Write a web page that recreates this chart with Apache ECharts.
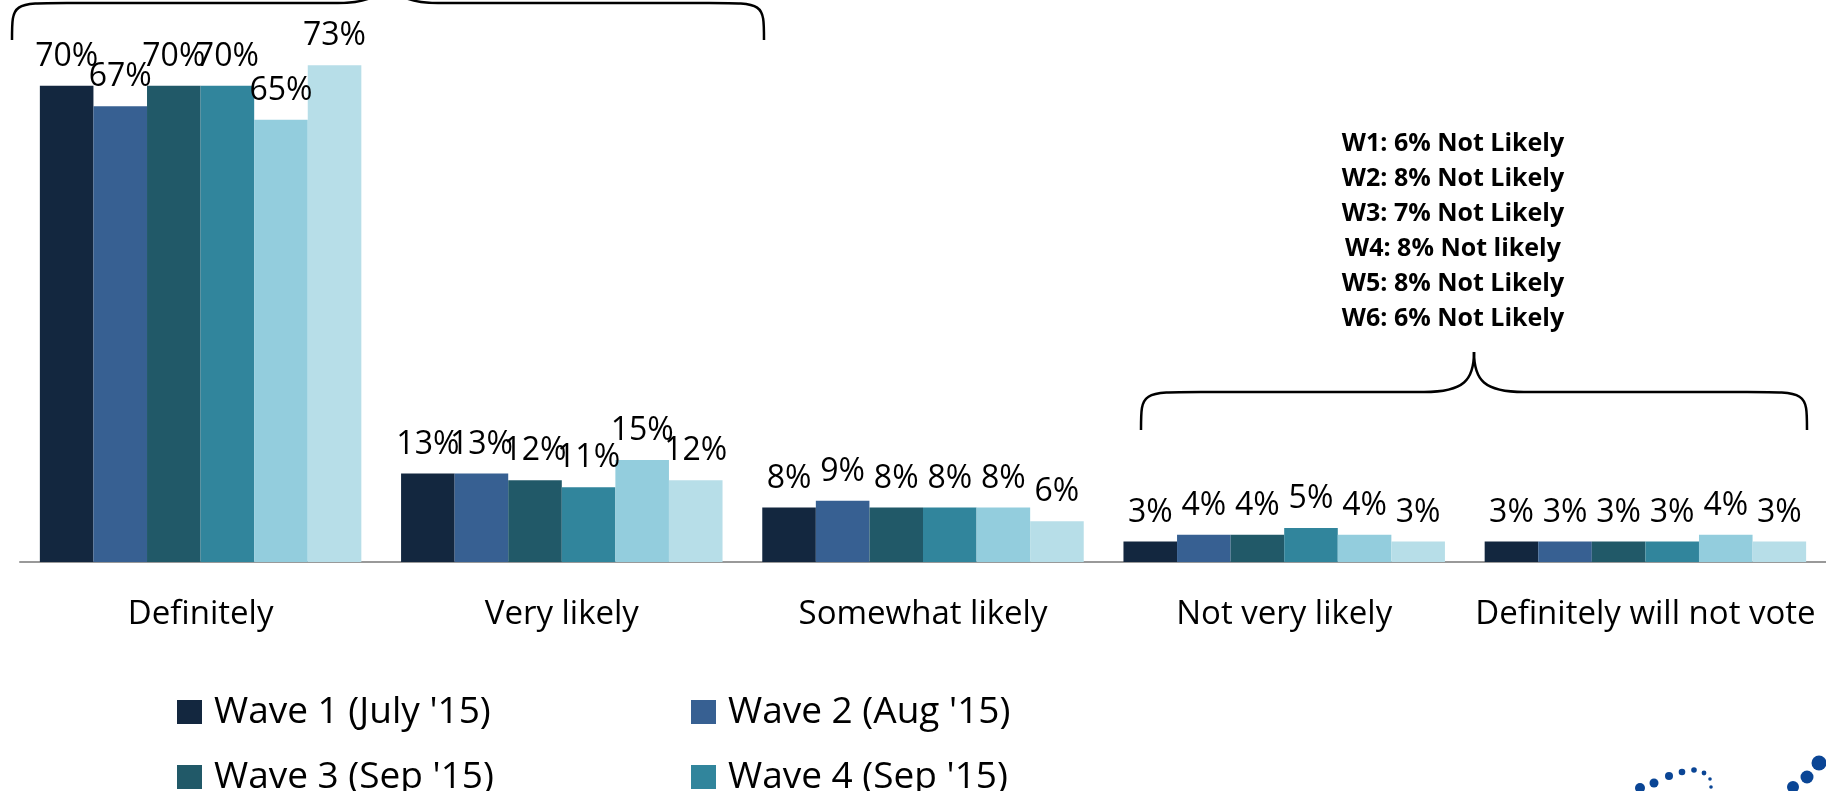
<!DOCTYPE html>
<html>
<head>
<meta charset="utf-8">
<script src="https://cdn.jsdelivr.net/npm/echarts@6.0.0/dist/echarts.min.js"></script>
<style>
  html, body { margin: 0; padding: 0; background: #fff; }
  #main { width: 1826px; height: 791px; }
</style>
</head>
<body>
<div id="main"></div>
<script>
// categories and values (percent of respondents)
const categories = ['Definitely', 'Very likely', 'Somewhat likely', 'Not very likely', 'Definitely will not vote'];
const waveNames = ["Wave 1 (July '15)", "Wave 2 (Aug '15)", "Wave 3 (Sep '15)", "Wave 4 (Sep '15)", "Wave 5 (Oct '15)", "Wave 6 (Nov '15)"];
const wave1 = [70, 13, 8, 3, 3];
const wave2 = [67, 13, 9, 4, 3];
const wave3 = [70, 12, 8, 4, 3];
const wave4 = [70, 11, 8, 5, 3];
const wave5 = [65, 15, 8, 4, 4];
const wave6 = [73, 12, 6, 3, 3];
const notLikelyNotes = ['W1: 6% Not Likely', 'W2: 8% Not Likely', 'W3: 7% Not Likely', 'W4: 8% Not likely', 'W5: 8% Not Likely', 'W6: 6% Not Likely'];

const colors = ['#13273f', '#376092', '#215968', '#31859c', '#93cddd', '#b7dee8'];
const waves = [wave1, wave2, wave3, wave4, wave5, wave6];
const font = 'Open Sans';

let chartDom = document.getElementById('main');
let myChart = echarts.init(chartDom);

let series = waves.map((data, i) => ({
    name: waveNames[i],
    type: 'bar',
    data: data,
    barGap: '0%',
    barCategoryGap: '11%',
    itemStyle: { color: colors[i] },
    label: {
        show: true,
        position: 'top',
        distance: 13,
        formatter: '{c}%',
        color: '#000',
        fontFamily: font,
        fontSize: 32
    }
}));

// legend laid out in two columns, one component per entry
let legendCols = [172, 686];
let legendRows = [687, 752, 817];
let legends = waveNames.map((n, i) => ({
    data: [n],
    left: legendCols[i % 2],
    top: legendRows[Math.floor(i / 2)],
    icon: 'rect',
    itemWidth: 25,
    itemHeight: 24,
    selectedMode: false,
    textStyle: { color: '#000', fontFamily: font, fontSize: 37, lineHeight: 40, padding: [0, 0, 0, 7] }
}));

// curly brace: two rounded ends, two straight runs and a pointed middle
function brace(x1, x2, yEnd, yFlat, tipY, r) {
    let mid = (x1 + x2) / 2;
    let dir = tipY < yFlat ? -1 : 1;
    let st = { stroke: '#000', lineWidth: 2.5, fill: null };
    return [
        { type: 'bezierCurve', shape: { x1: x1, y1: yEnd, cpx1: x1, cpy1: yFlat, cpx2: x1, cpy2: yFlat, x2: x1 + r, y2: yFlat }, style: st },
        { type: 'line', shape: { x1: x1 + r, y1: yFlat, x2: mid - 50, y2: yFlat }, style: st },
        { type: 'bezierCurve', shape: { x1: mid - 50, y1: yFlat, cpx1: mid - 10, cpy1: yFlat, cpx2: mid, cpy2: yFlat + dir * 12, x2: mid, y2: tipY }, style: st },
        { type: 'bezierCurve', shape: { x1: mid + 50, y1: yFlat, cpx1: mid + 10, cpy1: yFlat, cpx2: mid, cpy2: yFlat + dir * 12, x2: mid, y2: tipY }, style: st },
        { type: 'line', shape: { x1: mid + 50, y1: yFlat, x2: x2 - r, y2: yFlat }, style: st },
        { type: 'bezierCurve', shape: { x1: x2, y1: yEnd, cpx1: x2, cpy1: yFlat, cpx2: x2, cpy2: yFlat, x2: x2 - r, y2: yFlat }, style: st }
    ];
}

// little blue dots of the logo cut off in the corner
let logoDots = [
    [1640, 788, 5], [1654, 783, 4.5], [1669, 776, 4], [1682, 772, 3.3],
    [1694, 770, 2.8], [1704, 773, 2.4], [1710, 779, 1.8], [1711, 787, 1.8],
    [1819, 763, 7.5], [1807, 777, 6.5], [1793, 787, 6]
].map(d => ({
    type: 'circle',
    shape: { cx: d[0], cy: d[1], r: d[2] },
    style: { fill: '#0a4595' }
}));

let graphics = []
    .concat(brace(12, 764, 40, 3, -40, 55))
    .concat(brace(1141, 1807, 430, 392, 352, 60))
    .concat([{
        type: 'text',
        x: 1453,
        y: 126,
        style: {
            text: notLikelyNotes.join('\n'),
            align: 'center',
            verticalAlign: 'top',
            fill: '#000',
            font: 'bold 25px "Open Sans"',
            lineHeight: 35
        }
    }])
    .concat(logoDots);

let option = {
    animation: false,
    grid: { left: 20, right: -6, top: 0, bottom: 229, containLabel: false },
    legend: legends,
    xAxis: {
        type: 'category',
        data: categories,
        axisLine: { show: true, lineStyle: { color: '#999', width: 2 } },
        axisTick: { show: false },
        axisLabel: { color: '#000', fontFamily: font, fontSize: 33, margin: 36, interval: 0 }
    },
    yAxis: {
        type: 'value',
        min: 0,
        max: 82.6,
        show: false,
        splitLine: { show: false }
    },
    graphic: graphics,
    series: series
};

option && myChart.setOption(option);
</script>
</body>
</html>
